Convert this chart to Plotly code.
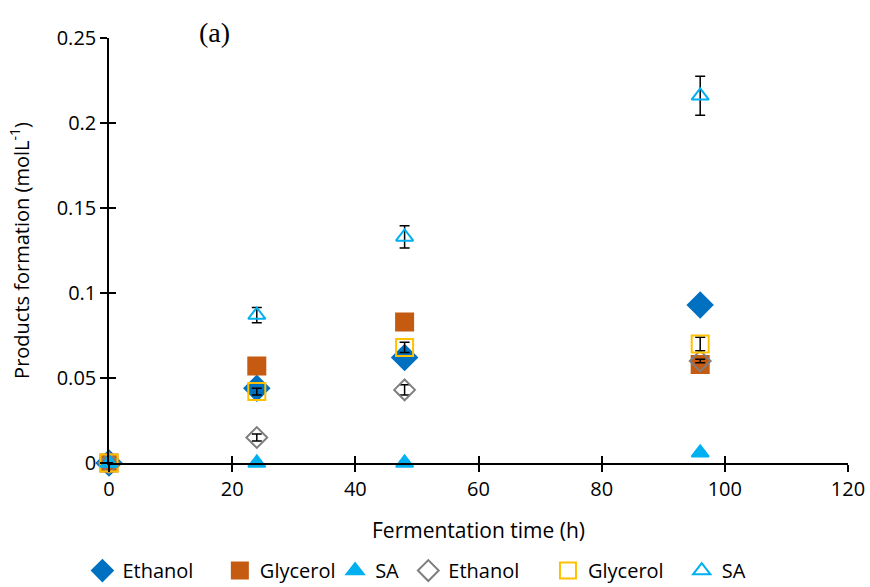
import plotly.graph_objects as go

# Fermentation time (h)
time_h = [0, 24, 48, 96]

# Filled series
ethanol_a = [0.0, 0.044, 0.062, 0.093]
glycerol_a = [0.0, 0.057, 0.083, 0.058]
sa_a = [0.0, 0.0, 0.0, 0.006]
sa_a_err = [0.0, 0.001, 0.001, 0.001]

# Open series
ethanol_b = [0.0, 0.015, 0.043, 0.060]
ethanol_b_err = [0.0, 0.002, 0.003, 0.001]
glycerol_b = [0.0, 0.042, 0.068, 0.070]
glycerol_b_err = [0.0, 0.002, 0.003, 0.004]
sa_b = [0.0, 0.087, 0.133, 0.216]
sa_b_err = [0.0, 0.0045, 0.0065, 0.0115]

font_main = dict(family="Open Sans, sans-serif", size=20, color="black")

# name, values, errors, symbol, size, colour, legend x (paper)
series = [
    ("Ethanol", ethanol_a, None, "diamond", 19, "#0070C0", -0.036),
    ("Glycerol", glycerol_a, None, "square", 17, "#C55A11", 0.150),
    ("SA", sa_a, sa_a_err, "triangle-up", 15, "#00B0F0", 0.306),
    ("Ethanol", ethanol_b, ethanol_b_err, "diamond-open", 16, "#7F7F7F", 0.405),
    ("Glycerol", glycerol_b, glycerol_b_err, "square-open", 17, "#FFC000", 0.594),
    ("SA", sa_b, sa_b_err, "triangle-up-open", 15, "#00B0F0", 0.775),
]

fig = go.Figure()
legends = {}
for i, (name, vals, err, sym, size, col, lx) in enumerate(series):
    key = "legend" if i == 0 else f"legend{i + 1}"
    fig.add_trace(go.Scatter(
        x=time_h, y=vals, name=name, mode="markers", legend=key,
        marker=dict(symbol=sym, size=size, color=col,
                    line=dict(color=col, width=2)),
        error_y=dict(type="data", array=err, color="black",
                     thickness=1.5, width=5, visible=err is not None),
        cliponaxis=False,
    ))
    legends[key] = dict(orientation="h", x=lx, xanchor="left",
                        y=0.028, yref="container", yanchor="middle",
                        font=dict(size=20), itemwidth=30,
                        bgcolor="rgba(0,0,0,0)")

# invisible trace to carry the inner half of the crossing ticks
fig.add_trace(go.Scatter(x=[0], y=[0], xaxis="x2", yaxis="y2",
                         mode="markers", marker=dict(opacity=0),
                         showlegend=False, hoverinfo="skip"))

tick_common = dict(ticklen=7, tickwidth=1.5, tickcolor="black",
                   showgrid=False, zeroline=False, automargin=False)

fig.update_layout(
    width=870, height=587,
    margin=dict(l=109, r=22, t=38, b=124),
    plot_bgcolor="white", paper_bgcolor="white",
    font=font_main,
    showlegend=True,
    xaxis=dict(range=[0, 120], dtick=20,
               showline=True, linecolor="black", linewidth=1.5,
               ticks="outside", **tick_common,
               title=dict(text="Fermentation time (h)", standoff=23,
                          font=dict(size=21))),
    yaxis=dict(range=[0, 0.25],
               showline=True, linecolor="black", linewidth=1.5,
               ticks="outside", **tick_common,
               tickvals=[0, 0.05, 0.1, 0.15, 0.2, 0.25],
               ticktext=["0", "0.05", "0.1", "0.15", "0.2", "0.25"],
               title=dict(text="Products formation (molL<sup>-1</sup>)", standoff=22,
                          font=dict(size=20))),
    xaxis2=dict(range=[0, 120], dtick=20, overlaying="x", anchor="y2",
                showline=False, showticklabels=False, ticks="inside",
                **tick_common),
    yaxis2=dict(range=[0, 0.25], dtick=0.05, overlaying="y", anchor="x2",
                showline=False, showticklabels=False, ticks="inside",
                **tick_common),
    annotations=[dict(text="(a)", x=0.143, y=1.014, xref="paper", yref="paper",
                      xanchor="center", yanchor="middle", showarrow=False,
                      font=dict(family="Liberation Serif, DejaVu Serif, serif",
                                size=28, color="black"))],
    **legends,
)

# drop the default page margin so the figure fills the 870x587 window
fig.write_html("out.html", config={"displayModeBar": False},
               post_script="document.body.style.margin='0';")
